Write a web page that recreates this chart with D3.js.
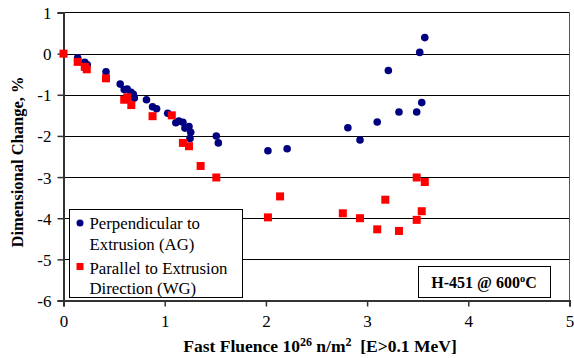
<!DOCTYPE html>
<html>
<head>
<meta charset="utf-8">
<script src="https://cdn.jsdelivr.net/npm/d3@7"></script>
<style>
 body { margin: 0; background: #fff; }
 text { font-family: "Liberation Serif", "Times New Roman", serif; fill: #000; }
 .grid { stroke: #000; stroke-width: 1; }
 .bold { font-weight: bold; }
</style>
</head>
<body>
<svg id="chart" width="574" height="358"></svg>
<script>
 // Perpendicular to Extrusion (AG)
 const agFluence = [0.14, 0.21, 0.235, 0.42, 0.56, 0.60, 0.63, 0.667, 0.69, 0.70, 0.82, 0.88, 0.92,
                    1.03, 1.11, 1.14, 1.18, 1.20, 1.24, 1.257, 1.25, 1.51, 1.53, 2.02, 2.21,
                    2.81, 2.93, 3.10, 3.21, 3.315, 3.49, 3.54, 3.52, 3.57];
 const agChange  = [-0.10, -0.21, -0.27, -0.44, -0.74, -0.87, -0.86, -0.94, -0.99, -1.08, -1.12, -1.29, -1.34,
                    -1.45, -1.68, -1.64, -1.67, -1.81, -1.77, -1.91, -2.06, -2.00, -2.17, -2.36, -2.31,
                    -1.80, -2.10, -1.66, -0.41, -1.42, -1.42, -1.19, 0.03, 0.39];

 // Parallel to Extrusion Direction (WG)
 const wgFluence = [0, 0.14, 0.21, 0.23, 0.42, 0.60, 0.63, 0.67, 0.88, 1.07, 1.18, 1.24, 1.355, 1.51,
                    2.02, 2.14, 2.76, 2.93, 3.10, 3.18, 3.315, 3.49, 3.54, 3.49, 3.57];
 const wgChange  = [0, -0.20, -0.32, -0.38, -0.60, -1.12, -1.06, -1.25, -1.52, -1.50, -2.17, -2.25, -2.73, -3.01,
                    -3.98, -3.47, -3.88, -4.00, -4.27, -3.55, -4.31, -4.04, -3.83, -3.01, -3.12];

 const xTicks = [0, 1, 2, 3, 4, 5];
 const yTicks = [1, 0, -1, -2, -3, -4, -5, -6];

 const svg = d3.select('#chart');
 const x = d3.scaleLinear().domain([0, 5]).range([63.5, 569.5]);
 const y = d3.scaleLinear().domain([-6, 1]).range([300.5, 12.5]);

 // gridlines
 svg.append('g').selectAll('line')
    .data(yTicks.filter(d => d > -6 && d < 1))
    .enter().append('line')
    .attr('class', 'grid')
    .attr('x1', x(0)).attr('x2', x(5))
    .attr('y1', d => Math.round(y(d)) + 0.5).attr('y2', d => Math.round(y(d)) + 0.5);

 // frame
 svg.append('line').attr('x1', x(0)).attr('x2', x(5)).attr('y1', y(1)).attr('y2', y(1))
    .attr('stroke', '#000').attr('stroke-width', 1);
 svg.append('line').attr('x1', x(5)).attr('x2', x(5)).attr('y1', y(1)).attr('y2', y(-6))
    .attr('stroke', '#555').attr('stroke-width', 1);

 // axes
 const yAxis = d3.axisLeft(y).tickValues(yTicks).tickSize(6).tickFormat(d3.format('d'));
 const gy = svg.append('g').attr('transform', `translate(${x(0)},0)`).call(yAxis);
 gy.select('.domain').attr('stroke', '#333').attr('stroke-width', 2);
 gy.selectAll('.tick line').attr('stroke', '#333').attr('stroke-width', 1.5);
 gy.selectAll('.tick text')
   .attr('font-family', '"Liberation Serif", "Times New Roman", serif')
   .attr('font-size', 17).attr('x', -12).attr('dy', null).attr('y', 6)
   .text(d => d < 0 ? '-' + Math.abs(d) : d);

 const xAxis = d3.axisBottom(x).tickValues(xTicks).tickSize(6).tickFormat(d3.format('d'));
 const gx = svg.append('g').attr('transform', `translate(0,${y(-6)})`).call(xAxis);
 gx.select('.domain').attr('stroke', '#333').attr('stroke-width', 2);
 gx.selectAll('.tick line').attr('stroke', '#333').attr('stroke-width', 1.5);
 gx.selectAll('.tick text')
   .attr('font-family', '"Liberation Serif", "Times New Roman", serif')
   .attr('font-size', 17).attr('dy', null).attr('y', 26);

 // data
 const ag = d3.zip(agFluence, agChange);
 const wg = d3.zip(wgFluence, wgChange);

 svg.append('g').selectAll('circle')
    .data(ag).enter().append('circle')
    .attr('cx', d => x(d[0])).attr('cy', d => y(d[1]))
    .attr('r', 3.8).attr('fill', '#000080');

 svg.append('g').selectAll('rect')
    .data(wg).enter().append('rect')
    .attr('x', d => x(d[0]) - 4).attr('y', d => y(d[1]) - 4)
    .attr('width', 8).attr('height', 8).attr('fill', '#ff0000');

 // axis titles
 svg.append('text').attr('class', 'bold')
    .attr('transform', 'translate(23,162) rotate(-90)')
    .attr('text-anchor', 'middle').attr('font-size', 16.5)
    .text('Dimensional Change, %');

 const xt = svg.append('text').attr('class', 'bold')
    .attr('x', 320).attr('y', 352).attr('text-anchor', 'middle').attr('font-size', 17.5);
 xt.append('tspan').text('Fast Fluence 10');
 xt.append('tspan').attr('font-size', 12).attr('dy', -6).text('26');
 xt.append('tspan').attr('dy', 6).text(' n/m');
 xt.append('tspan').attr('font-size', 12).attr('dy', -6).text('2');
 xt.append('tspan').attr('dy', 6).attr('xml:space', 'preserve').text('  [E>0.1 MeV]');

 // legend
 const legend = svg.append('g');
 legend.append('rect').attr('x', 69.5).attr('y', 209.5).attr('width', 173).attr('height', 88)
    .attr('fill', '#fff').attr('stroke', '#000').attr('stroke-width', 1);
 legend.append('circle').attr('cx', 80).attr('cy', 223).attr('r', 3.5).attr('fill', '#000080');
 legend.append('rect').attr('x', 76.5).attr('y', 263).attr('width', 7).attr('height', 7).attr('fill', '#ff0000');
 const legendLines = ['Perpendicular to', 'Extrusion (AG)', 'Parallel to Extrusion', 'Direction (WG)'];
 const legendY = [229, 250, 273.5, 294];
 legend.selectAll('text.leg').data(legendLines).enter().append('text')
    .attr('class', 'leg').attr('x', 89.5).attr('y', (d, i) => legendY[i])
    .attr('font-size', 16.8).text(d => d);

 // temperature label
 svg.append('rect').attr('x', 418.5).attr('y', 266.5).attr('width', 132).attr('height', 31)
    .attr('fill', '#fff').attr('stroke', '#000').attr('stroke-width', 1);
 const tl = svg.append('text').attr('class', 'bold')
    .attr('x', 484).attr('y', 288).attr('text-anchor', 'middle').attr('font-size', 16);
 tl.append('tspan').text('H-451 @ 600');
 tl.append('tspan').attr('font-size', 10.5).attr('dy', -6.5).text('o');
 tl.append('tspan').attr('dy', 6.5).text('C');
</script>
</body>
</html>
